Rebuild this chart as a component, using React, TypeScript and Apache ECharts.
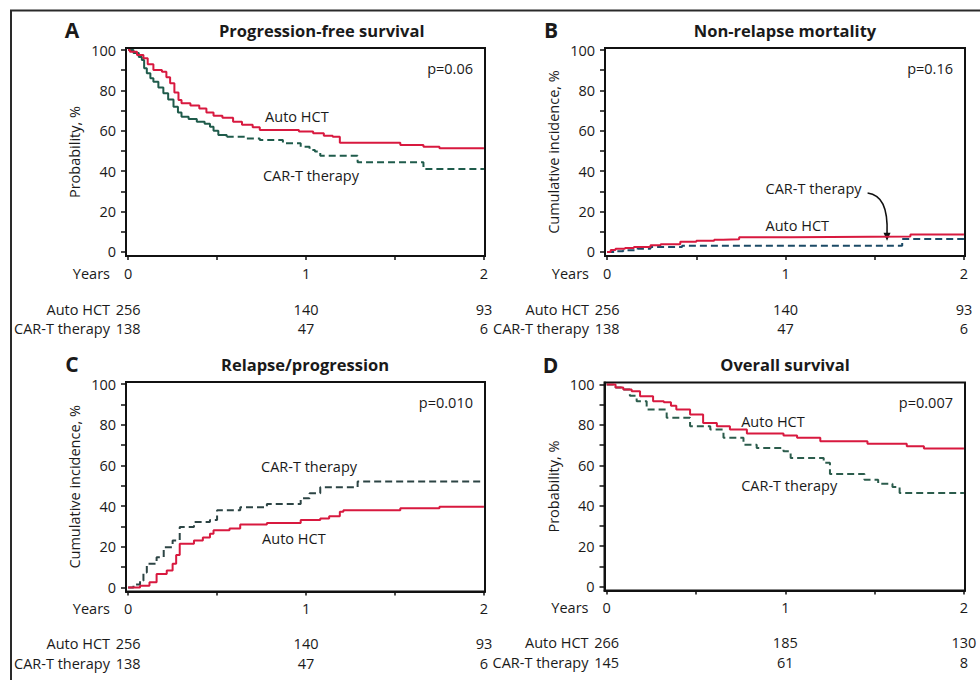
import { useEffect, useRef } from 'react';
import * as echarts from 'echarts';

type Pt = [number, number];

// Axis ticks and labels
const yearLabels = [0, 1, 2];
const yearTicks = [0, 0.5, 1, 1.5, 2];
const percentTicks = [0, 10, 20, 30, 40, 50, 60, 70, 80, 90, 100];
const percentLabels = [0, 20, 40, 60, 80, 100];
const groupNames = ['Auto HCT', 'CAR-T therapy'];
const timeAxisName = 'Years';

// A. Progression-free survival (%)
const pfsAuto: Pt[] = [
  [0, 100], [0.01, 99.2], [0.05, 97.5], [0.086, 95.9], [0.11, 93], [0.142, 90.1], [0.19, 89.3],
  [0.215, 86.5], [0.236, 83.5], [0.26, 79], [0.283, 75.2], [0.3, 73.6], [0.35, 72.5], [0.4, 71.1],
  [0.44, 69], [0.48, 67.5], [0.53, 66.5], [0.59, 64.5], [0.64, 63], [0.7, 61.8], [0.74, 60.4],
  [0.96, 59.6], [1.04, 58.8], [1.1, 57.5], [1.15, 57.1], [1.19, 54.1], [1.53, 53], [1.66, 52.1],
  [1.75, 51.3], [2.0, 51.3],
];
const pfsCarTEarly: Pt[] = [
  [0, 100], [0.03, 98.5], [0.06, 96.5], [0.077, 95], [0.09, 91], [0.105, 88.5], [0.125, 86],
  [0.142, 84.3], [0.17, 81.5], [0.198, 78.6], [0.225, 75.5], [0.255, 71.9], [0.28, 69], [0.3, 67],
  [0.34, 65.8], [0.386, 64.5], [0.43, 63.5], [0.46, 62], [0.48, 60], [0.507, 57.9], [0.554, 57.1],
];
const pfsCarTLate: Pt[] = [
  [0.554, 57.1], [0.66, 56.2], [0.74, 55.4], [0.87, 53.8], [0.97, 52.1], [1.02, 50.5], [1.05, 49.7],
  [1.08, 47.7], [1.29, 44.4], [1.66, 41.1], [2.0, 41.1],
];

// B. Non-relapse mortality (cumulative incidence, %)
const nrmAuto: Pt[] = [
  [0, 0], [0.02, 1.0], [0.047, 1.6], [0.1, 2.0], [0.15, 2.5], [0.243, 3.3], [0.3, 3.8], [0.41, 5.1],
  [0.5, 5.5], [0.6, 6.0], [0.65, 6.3], [0.74, 7.3], [1.03, 7.6], [1.7, 8.7], [2.0, 8.7],
];
const nrmCarT: Pt[] = [
  [0, 0], [0.05, 0.4], [0.09, 0.8], [0.17, 1.6], [0.243, 2.5], [0.42, 3.1], [1.654, 6.4], [2.0, 6.4],
];

// C. Relapse/progression (cumulative incidence, %)
const relAuto: Pt[] = [
  [0, 0], [0.067, 0.8], [0.12, 2.5], [0.16, 6.6], [0.217, 8.3], [0.25, 11.6], [0.27, 16], [0.29, 21.5],
  [0.37, 23.1], [0.42, 24.5], [0.46, 26.4], [0.48, 28.1], [0.57, 29], [0.63, 30.9], [0.78, 31.7],
  [0.97, 33.1], [1.08, 33.9], [1.13, 35], [1.19, 37.2], [1.21, 38], [1.53, 38.9], [1.75, 39.7],
  [2.0, 39.7],
];
const relCarT: Pt[] = [
  [0, 0], [0.03, 1.5], [0.067, 3.3], [0.086, 7.4], [0.105, 11.6], [0.16, 14.9], [0.2, 19.8],
  [0.25, 23.1], [0.29, 29.7], [0.37, 32.2], [0.46, 33.1], [0.5, 38], [0.63, 39.4], [0.78, 41],
  [0.97, 43.8], [1.02, 46.3], [1.08, 49.3], [1.29, 52.1], [2.0, 52.1],
];

// D. Overall survival (%)
const osAuto: Pt[] = [
  [0, 100], [0.05, 98.5], [0.093, 97.5], [0.14, 96.7], [0.187, 94.2], [0.26, 91.7], [0.32, 91.2],
  [0.36, 89.5], [0.39, 87.6], [0.467, 85.1], [0.54, 81], [0.617, 79.3], [0.69, 77.7], [0.785, 75.7],
  [0.99, 74.7], [1.066, 73.6], [1.196, 71.9], [1.46, 70.7], [1.68, 69.4], [1.776, 68.3], [2.0, 68.3],
];
const osCarT: Pt[] = [
  [0, 100], [0.05, 98.5], [0.093, 97.5], [0.13, 94.5], [0.168, 91.7], [0.224, 87.6], [0.336, 83.5],
  [0.467, 79.3], [0.58, 77.7], [0.654, 73.6], [0.766, 70.2], [0.84, 68.6], [0.99, 66.9], [1.03, 63.6],
  [1.215, 61.2], [1.25, 55.7], [1.443, 52.9], [1.52, 50.8], [1.6, 49.3], [1.64, 46.3], [2.0, 46.3],
];

// Numbers at risk at 0, 1 and 2 years
const riskAutoEvents = [256, 140, 93];
const riskCarTEvents = [138, 47, 6];
const riskAutoOs = [266, 185, 130];
const riskCarTOs = [145, 61, 8];

const FONT = '"Open Sans", "Noto Sans", sans-serif';
const INK = '#1a1a1a';
const RED = '#d8193f';

type Curve = { data: Pt[]; color: string; dashed: boolean };
type Label = { text: string; at: Pt };
type Panel = {
  letter: string;
  title: string;
  titleX: number;
  titleAlign: 'left' | 'center';
  yName: string;
  pValue: string;
  grid: { left: number; top: number; width: number; height: number };
  curves: Curve[];
  riskAuto: number[];
  riskCarT: number[];
  labels: Label[];
};

const panels: Panel[] = [
  {
    letter: 'A', title: 'Progression-free survival', titleX: 219, titleAlign: 'left',
    yName: 'Probability, %', pValue: 'p=0.06',
    grid: { left: 126, top: 48, width: 359, height: 208 },
    curves: [
      { data: pfsCarTEarly, color: '#1f5b4b', dashed: false },
      { data: pfsCarTLate, color: '#1f5b4b', dashed: true },
      { data: pfsAuto, color: RED, dashed: false },
    ],
    riskAuto: riskAutoEvents, riskCarT: riskCarTEvents,
    labels: [
      { text: 'Auto HCT', at: [0.77, 67.3] },
      { text: 'CAR-T therapy', at: [0.758, 38.1] },
    ],
  },
  {
    letter: 'B', title: 'Non-relapse mortality', titleX: 785, titleAlign: 'center',
    yName: 'Cumulative incidence, %', pValue: 'p=0.16',
    grid: { left: 605, top: 48, width: 360, height: 208 },
    curves: [
      { data: nrmCarT, color: '#1b4a66', dashed: true },
      { data: nrmAuto, color: RED, dashed: false },
    ],
    riskAuto: riskAutoEvents, riskCarT: riskCarTEvents,
    labels: [
      { text: 'CAR-T therapy', at: [0.888, 31.2] },
      { text: 'Auto HCT', at: [0.888, 12.9] },
    ],
  },
  {
    letter: 'C', title: 'Relapse/progression', titleX: 221, titleAlign: 'left',
    yName: 'Cumulative incidence, %', pValue: 'p=0.010',
    grid: { left: 126, top: 382, width: 359, height: 209.5 },
    curves: [
      { data: relCarT, color: '#2c4444', dashed: true },
      { data: relAuto, color: RED, dashed: false },
    ],
    riskAuto: riskAutoEvents, riskCarT: riskCarTEvents,
    labels: [
      { text: 'CAR-T therapy', at: [0.747, 59.3] },
      { text: 'Auto HCT', at: [0.753, 24.1] },
    ],
  },
  {
    letter: 'D', title: 'Overall survival', titleX: 785, titleAlign: 'center',
    yName: 'Probability, %', pValue: 'p=0.007',
    grid: { left: 604.5, top: 382.5, width: 360.5, height: 208 },
    curves: [
      { data: osCarT, color: '#2b5c4c', dashed: true },
      { data: osAuto, color: RED, dashed: false },
    ],
    riskAuto: riskAutoOs, riskCarT: riskCarTOs,
    labels: [
      { text: 'Auto HCT', at: [0.753, 81.6] },
      { text: 'CAR-T therapy', at: [0.753, 49.9] },
    ],
  },
];

const X_MIN = -0.012;
const X_MAX = 2.006;
const Y_MIN = -2;
const Y_MAX = 101;
const AXES_PER_PANEL = 4;
const TEXT_SIZE = 14.5;
const YEAR_ROW_OFFSET = 17;
const NAME_GAP = 16;

function textAxis(gi: number, offset: number, name: string, values: number[] | null) {
  return {
    gridIndex: gi,
    type: 'value',
    position: 'bottom',
    min: X_MIN,
    max: X_MAX,
    offset,
    axisLine: { show: false },
    axisTick: { show: false },
    splitLine: { show: false },
    axisLabel: {
      customValues: yearLabels,
      margin: 0,
      verticalAlign: 'middle',
      fontFamily: FONT,
      fontSize: TEXT_SIZE,
      color: INK,
      formatter: (v: number) => {
        if (!values) return String(Math.round(v));
        const i = yearLabels.indexOf(Math.round(v));
        return i >= 0 ? String(values[i]) : '';
      },
    },
    name,
    nameLocation: 'start',
    nameGap: NAME_GAP,
    nameMoveOverlap: false,
    nameTextStyle: { fontFamily: FONT, fontSize: TEXT_SIZE, color: INK, verticalAlign: 'middle' },
  };
}

function buildOption() {
  const grid = panels.map((p) => ({
    ...p.grid,
    show: true,
    borderColor: '#111',
    borderWidth: 2,
    backgroundColor: 'transparent',
    containLabel: false,
  }));

  const xAxis: any[] = [];
  const yAxis: any[] = [];
  const series: any[] = [];

  panels.forEach((p, gi) => {
    xAxis.push({
      gridIndex: gi,
      type: 'value',
      position: 'bottom',
      min: X_MIN,
      max: X_MAX,
      axisLine: { show: true, onZero: false, lineStyle: { color: '#111', width: 2 } },
      axisTick: { show: true, customValues: yearTicks, length: 4, lineStyle: { color: '#111', width: 1.5 } },
      axisLabel: { show: false },
      splitLine: { show: false },
    });
    xAxis.push(textAxis(gi, YEAR_ROW_OFFSET, '', null));
    xAxis.push(textAxis(gi, gi < 2 ? 53 : 52, groupNames[0], p.riskAuto));
    xAxis.push(textAxis(gi, 72, groupNames[1], p.riskCarT));

    yAxis.push({
      gridIndex: gi,
      type: 'value',
      min: Y_MIN,
      max: Y_MAX,
      axisLine: { show: true, onZero: false, lineStyle: { color: '#111', width: 2 } },
      axisTick: { show: true, customValues: percentTicks, length: 5, lineStyle: { color: '#111', width: 1.5 } },
      axisLabel: { customValues: percentLabels, margin: 10, fontFamily: FONT, fontSize: TEXT_SIZE, color: INK },
      splitLine: { show: false },
      name: p.yName,
      nameLocation: 'middle',
      nameGap: 44,
      nameMoveOverlap: false,
      nameTextStyle: { fontFamily: FONT, fontSize: TEXT_SIZE, color: INK },
    });

    p.curves.forEach((c) => {
      series.push({
        type: 'line',
        xAxisIndex: gi * AXES_PER_PANEL,
        yAxisIndex: gi,
        step: 'end',
        symbol: 'none',
        silent: true,
        data: c.data,
        lineStyle: { color: c.color, width: 2, type: c.dashed ? [7, 4] : 'solid' },
      });
    });
  });

  return { animation: false, backgroundColor: '#fff', grid, xAxis, yAxis, series };
}

export default function App() {
  const ref = useRef<HTMLDivElement>(null);

  useEffect(() => {
    if (!ref.current) return;
    const chart = echarts.init(ref.current, null, { renderer: 'svg' });
    chart.setOption(buildOption() as any);

    const toPx = (gi: number, pt: Pt) =>
      chart.convertToPixel({ xAxisIndex: gi * AXES_PER_PANEL, yAxisIndex: gi } as any, pt) as number[];

    const graphic: any[] = [
      {
        type: 'rect',
        shape: { x: 11, y: 10.5, width: 1000, height: 700 },
        style: { fill: 'none', stroke: '#2a2a2a', lineWidth: 2 },
        silent: true,
      },
    ];

    panels.forEach((p, gi) => {
      const { left, top, width, height } = p.grid;
      const headY = top - 18;
      graphic.push({
        type: 'text',
        x: left - 54,
        y: headY,
        style: { text: p.letter, fontFamily: FONT, fontSize: 21, fontWeight: 'bold', fill: INK, align: 'center', verticalAlign: 'middle' },
      });
      graphic.push({
        type: 'text',
        x: p.titleX,
        y: headY,
        style: { text: p.title, fontFamily: FONT, fontSize: 16.5, fontWeight: 'bold', fill: INK, align: p.titleAlign, verticalAlign: 'middle' },
      });
      graphic.push({
        type: 'text',
        x: left + width - 12,
        y: top + 20,
        style: { text: p.pValue, fontFamily: FONT, fontSize: TEXT_SIZE, fill: INK, align: 'right', verticalAlign: 'middle' },
      });
      // Time-axis name, on the same row as the year labels
      graphic.push({
        type: 'text',
        x: left - NAME_GAP,
        y: top + height + YEAR_ROW_OFFSET,
        style: { text: timeAxisName, fontFamily: FONT, fontSize: TEXT_SIZE, fill: INK, align: 'right', verticalAlign: 'middle' },
      });
      p.labels.forEach((l) => {
        const [x, y] = toPx(gi, l.at);
        graphic.push({
          type: 'text',
          x,
          y,
          style: { text: l.text, fontFamily: FONT, fontSize: TEXT_SIZE, fill: INK, align: 'left', verticalAlign: 'middle' },
        });
      });
    });

    // Arrow from the CAR-T label down to its curve in panel B
    const [sx, sy] = toPx(1, [1.46, 29.2]);
    const [tx, ty] = toPx(1, [1.569, 5.6]);
    graphic.push({
      type: 'bezierCurve',
      shape: { x1: sx, y1: sy, cpx1: sx + 14, cpy1: sy + 2, cpx2: tx + 1, cpy2: sy + 14, x2: tx, y2: ty - 7 },
      style: { stroke: '#111', lineWidth: 1.6, fill: 'none' },
      silent: true,
    });
    graphic.push({
      type: 'polygon',
      shape: { points: [[tx - 3.5, ty - 8], [tx + 3.5, ty - 8], [tx, ty]] },
      style: { fill: '#111' },
      silent: true,
    });

    chart.setOption({ graphic } as any);
    return () => chart.dispose();
  }, []);

  return (
    <div
      ref={ref}
      style={{ position: 'fixed', left: 0, top: 0, width: 980, height: 680, background: '#fff' }}
    />
  );
}
